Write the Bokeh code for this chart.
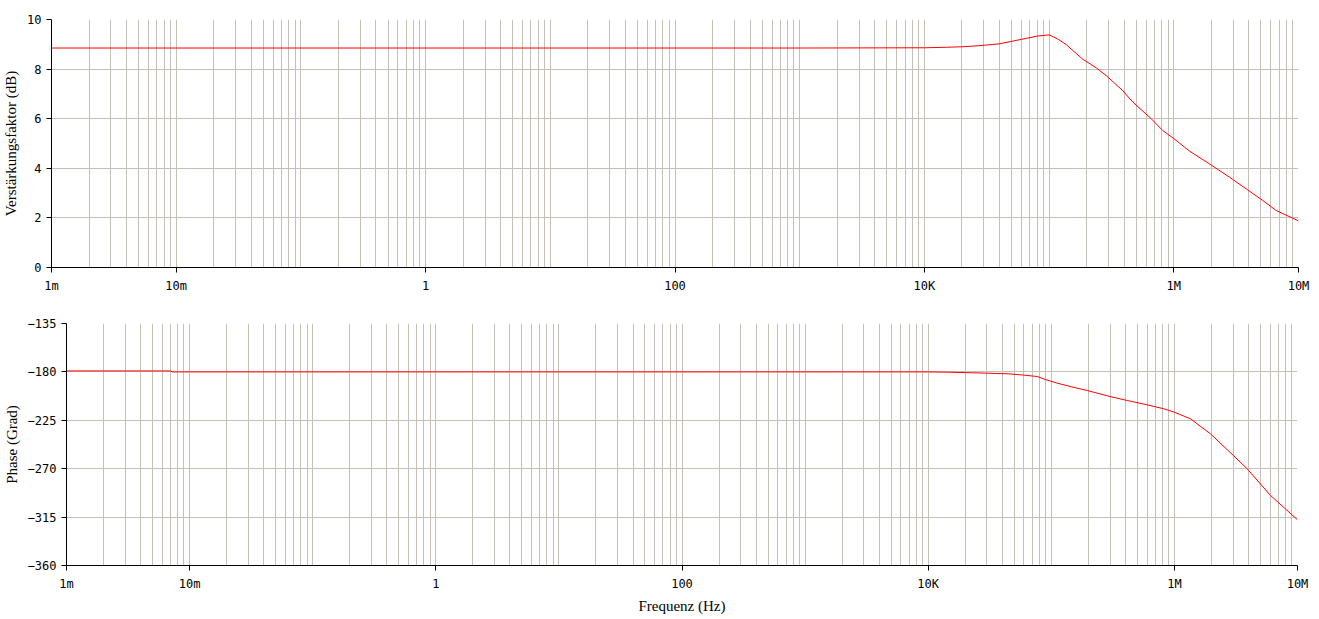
import math
from bokeh.plotting import figure
from bokeh.models import FixedTicker, CustomJSTickFormatter, Range1d
from bokeh.embed import file_html
from bokeh.resources import INLINE

# ---- data ----
gain_freq = [1e-3, 1e3, 1e4, 1.5e4, 2e4, 2.7e4, 4e4, 6e4, 8e4, 1e5, 1.17e5, 1.37e5,
             1.85e5, 2.39e5, 2.87e5, 3.88e5, 4.69e5, 6.59e5, 8.16e5, 1e6, 1.34e6,
             1.93e6, 2.8e6, 3.81e6, 5.18e6, 6.62e6, 1e7]
gain_db = [8.85, 8.85, 8.86, 8.88, 8.90, 8.94, 9.02, 9.20, 9.33, 9.38, 9.22, 8.99,
           8.41, 8.05, 7.74, 7.14, 6.67, 6.00, 5.52, 5.20, 4.69,
           4.18, 3.64, 3.17, 2.70, 2.30, 1.88]

phase_freq = [1e-3, 7e-3, 7.2e-3, 1e4, 1.5e4, 2.25e4, 3e4, 4.5e4, 6e4, 7.7e4, 9e4,
              1.12e5, 1.5e5, 1.96e5, 3e5, 4.14e5, 6e5, 8.2e5, 1e6, 1.35e6, 1.96e6,
              3e6, 3.9e6, 6.04e6, 1e7]
phase_deg = [-179.1, -179.1, -180.0, -180.0, -180.3, -180.8, -181.2, -181.8, -183.0,
             -184.3, -187.2, -190.5, -194.2, -197.3, -202.9, -206.6, -210.6, -214.3,
             -217.5, -223.6, -237.5, -257.5, -270.1, -294.9, -317.5]

x_tick_values = [1e-3, 1e-2, 1, 100, 1e4, 1e6, 1e7]
x_tick_labels = ["1m", "10m", "1", "100", "10K", "1M", "10M"]
gain_ticks = [0, 2, 4, 6, 8, 10]
phase_ticks = [-360, -315, -270, -225, -180, -135]
phase_labels = ["\u2212360", "\u2212315", "\u2212270", "\u2212225", "\u2212180", "\u2212135"]

grid_vals = [m * 10.0 ** k for k in range(-3, 7) for m in range(1, 10)] + [1e7]

GRID = "#c4c0b8"
TICKFONT = "DejaVu Sans Mono"
LABELFONT = "Liberation Serif"

lbl_map = {str(round(math.log10(v))): l for v, l in zip(x_tick_values, x_tick_labels)}
xfmt_code = "const m = %s; const e = Math.round(Math.log10(tick)); return m[String(e)] || '';" % (
    "{" + ",".join('"%s":"%s"' % (k, v) for k, v in lbl_map.items()) + "}")


def style(p, yticks, ylabel, xlabel=None, yoverrides=None):
    p.outline_line_color = None
    p.xaxis.ticker = FixedTicker(ticks=x_tick_values)
    p.xaxis.formatter = CustomJSTickFormatter(code=xfmt_code)
    p.yaxis.ticker = FixedTicker(ticks=yticks)
    if yoverrides:
        p.yaxis.major_label_overrides = yoverrides
    p.xgrid.ticker = FixedTicker(ticks=grid_vals)
    p.ygrid.ticker = FixedTicker(ticks=yticks)
    for g in (p.xgrid, p.ygrid):
        g.grid_line_color = GRID
        g.grid_line_width = 1
    for ax in (p.xaxis, p.yaxis):
        ax.axis_line_color = "black"
        ax.major_tick_line_color = "black"
        ax.minor_tick_line_color = None
        ax.major_tick_in = 0
        ax.major_tick_out = 5
        ax.major_label_text_font = TICKFONT
        ax.major_label_text_font_size = "12px"
        ax.major_label_text_color = "black"
        ax.axis_label_text_font = LABELFONT
        ax.axis_label_text_font_size = "15px"
        ax.axis_label_text_font_style = "normal"
        ax.axis_label_text_color = "black"
    p.yaxis.axis_label = ylabel
    p.yaxis.major_label_standoff = 5
    p.yaxis.axis_label_standoff = 5
    p.xaxis.major_label_standoff = 6
    if xlabel:
        p.xaxis.axis_label = xlabel
        p.xaxis.axis_label_standoff = 4


p1 = figure(x_axis_type="log", x_range=Range1d(1e-3, 1e7), y_range=Range1d(0, 10),
            frame_width=1247, frame_height=248, min_border_left=42, min_border_right=14,
            min_border_top=19, min_border_bottom=33,
            output_backend="svg", toolbar_location=None)
style(p1, gain_ticks, "Verstärkungsfaktor (dB)")
p1.line(gain_freq, gain_db, line_color="#ff0000", line_width=1)

p2 = figure(x_axis_type="log", x_range=Range1d(1e-3, 1e7), y_range=Range1d(-360, -135),
            frame_width=1231, frame_height=242, min_border_left=58, min_border_right=14,
            min_border_top=23, min_border_bottom=36,
            output_backend="svg", toolbar_location=None)
style(p2, phase_ticks, "Phase (Grad)", "Frequenz (Hz)",
      yoverrides={t: l for t, l in zip(phase_ticks, phase_labels)})
p2.line(phase_freq, phase_deg, line_color="#ff0000", line_width=1)

open("out.html", "w").write(file_html([p1, p2], INLINE))
